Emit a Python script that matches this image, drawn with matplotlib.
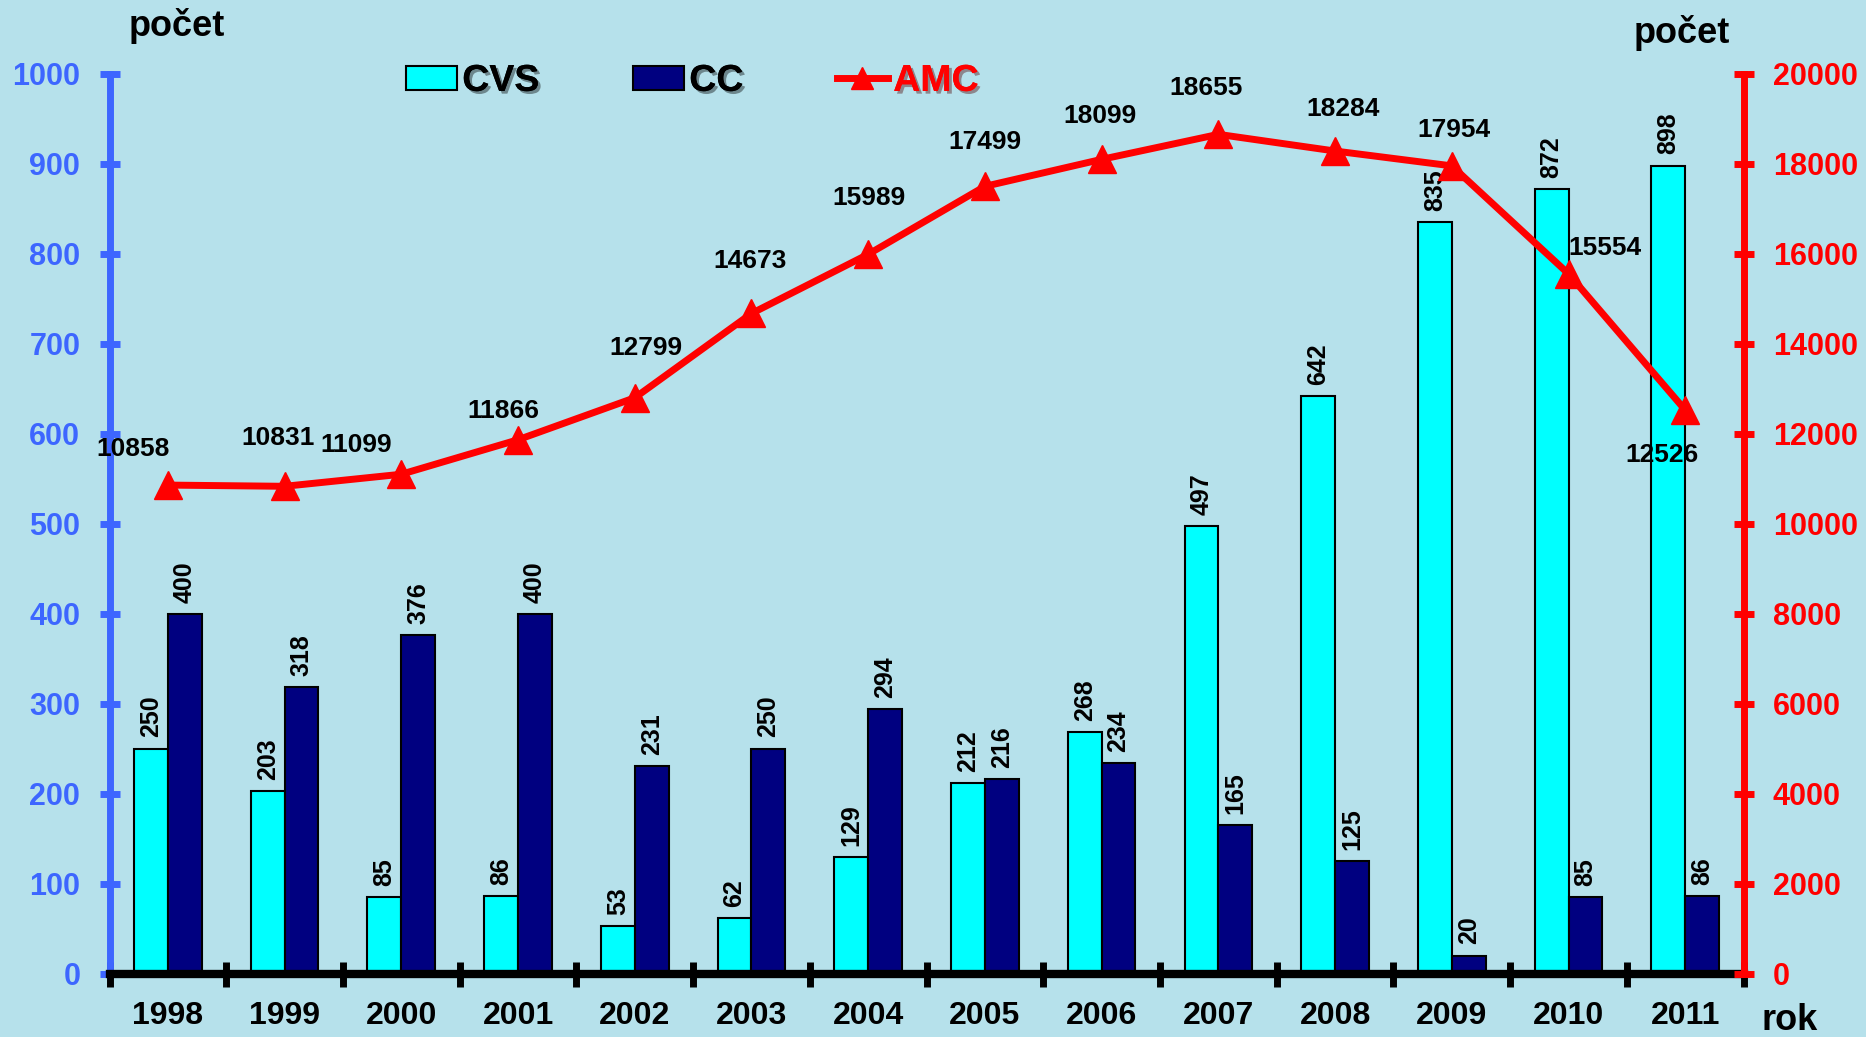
import numpy as np
import matplotlib
matplotlib.use('Agg')
import matplotlib.pyplot as plt
from matplotlib.patches import Patch
from matplotlib.lines import Line2D
import matplotlib.patheffects as pe

plt.rcParams['font.family'] = ['Liberation Sans', 'DejaVu Sans']
plt.rcParams['font.weight'] = 'bold'

years = ['1998', '1999', '2000', '2001', '2002', '2003', '2004',
         '2005', '2006', '2007', '2008', '2009', '2010', '2011']
cvs = [250, 203, 85, 86, 53, 62, 129, 212, 268, 497, 642, 835, 872, 898]
cc = [400, 318, 376, 400, 231, 250, 294, 216, 234, 165, 125, 20, 85, 86]
amc = [10858, 10831, 11099, 11866, 12799, 14673, 15989,
       17499, 18099, 18655, 18284, 17954, 15554, 12526]

# label offsets for AMC values (pixels), picked by eye
amc_offsets = [(-35, 36), (-7, 48), (-45, 29), (-15, 29), (11, 50), (-1, 52), (1, 56),
               (0, 44), (-2, 43), (-12, 46), (8, 42), (2, 36), (36, 26), (-23, -45)]

bg = '#b6e1eb'
blue = '#3d66ff'
red = '#ff0000'

fig = plt.figure(figsize=(18.66, 10.37), dpi=100)
fig.patch.set_facecolor(bg)
ax = fig.add_axes([0.0587, 0.0612, 0.8757, 0.8676])
ax.set_facecolor('none')

x = np.arange(len(years))
w = 0.29
b1 = ax.bar(x - w / 2, cvs, w, color='#00ffff', edgecolor='black', linewidth=1.5, label='CVS')
b2 = ax.bar(x + w / 2, cc, w, color='#000080', edgecolor='black', linewidth=1.5, label='CC')
for bars in (b1, b2):
    ax.bar_label(bars, rotation=90, padding=8, fontsize=18, fontweight='bold')

ax.set_xlim(-0.5, len(years) - 0.5)
ax.set_ylim(0, 1000)
ax.set_yticks(np.arange(0, 1001, 100))
ax.set_xticks(np.arange(-0.5, len(years), 1.0))
ax.set_xticklabels([])
ax.set_xticks(x, minor=True)
ax.set_xticklabels(years, minor=True, fontsize=23, fontweight='bold')
ax.tick_params(axis='x', which='major', direction='inout', length=18, width=5, color='black')
ax.tick_params(axis='x', which='minor', length=0, pad=20)
ax.tick_params(axis='y', direction='inout', length=14, width=5, color=blue,
               labelcolor=blue, labelsize=22, pad=14)
for lab in ax.get_yticklabels():
    lab.set_fontweight('bold')

ax.spines['top'].set_visible(False)
ax.spines['right'].set_visible(False)
ax.spines['left'].set_color(blue)
ax.spines['left'].set_linewidth(5)
ax.spines['bottom'].set_color('black')
ax.spines['bottom'].set_linewidth(6)
ax.spines['bottom'].set_zorder(5)

ax2 = ax.twinx()
ax2.plot(x, amc, color=red, linewidth=5, marker='^', markersize=20, label='AMC')
ax2.set_ylim(0, 20000)
ax2.set_yticks(np.arange(0, 20001, 2000))
ax2.tick_params(axis='y', direction='inout', length=14, width=5, color=red,
                labelcolor=red, labelsize=22, pad=14)
for lab in ax2.get_yticklabels():
    lab.set_fontweight('bold')
for s in ('top', 'left', 'bottom'):
    ax2.spines[s].set_visible(False)
ax2.spines['right'].set_color(red)
ax2.spines['right'].set_linewidth(5)

for xi, v, off in zip(x, amc, amc_offsets):
    ax2.annotate(str(v), (xi, v), xytext=off, textcoords='offset pixels',
                 ha='center', va='center', fontsize=19, fontweight='bold')

handles = [Patch(facecolor='#00ffff', edgecolor='black', linewidth=1.5),
           Patch(facecolor='#000080', edgecolor='black', linewidth=1.5),
           Line2D([], [], color=red, linewidth=5, marker='^', markersize=16)]
leg = fig.legend(handles, ['CVS', 'CC', 'AMC'], loc='center', bbox_to_anchor=(0.371, 0.922),
                 ncol=3, frameon=False, fontsize=27, handlelength=1.35, handleheight=0.6,
                 handletextpad=0.15, columnspacing=2.5)
for t, c in zip(leg.get_texts(), ['black', 'black', red]):
    t.set_fontweight('bold')
    t.set_color(c)
    t.set_path_effects([pe.withSimplePatchShadow(offset=(2, -2), alpha=0.4), pe.Normal()])

fig.text(177 / 1866, 1 - 26 / 1037, 'počet', ha='center', va='center', fontsize=26, fontweight='bold')
fig.text(1682 / 1866, 1 - 33 / 1037, 'počet', ha='center', va='center', fontsize=26, fontweight='bold')
fig.text(1790 / 1866, 1 - 1021 / 1037, 'rok', ha='center', va='center', fontsize=26, fontweight='bold')

fig.savefig('out.png', dpi=100, facecolor=fig.get_facecolor())
